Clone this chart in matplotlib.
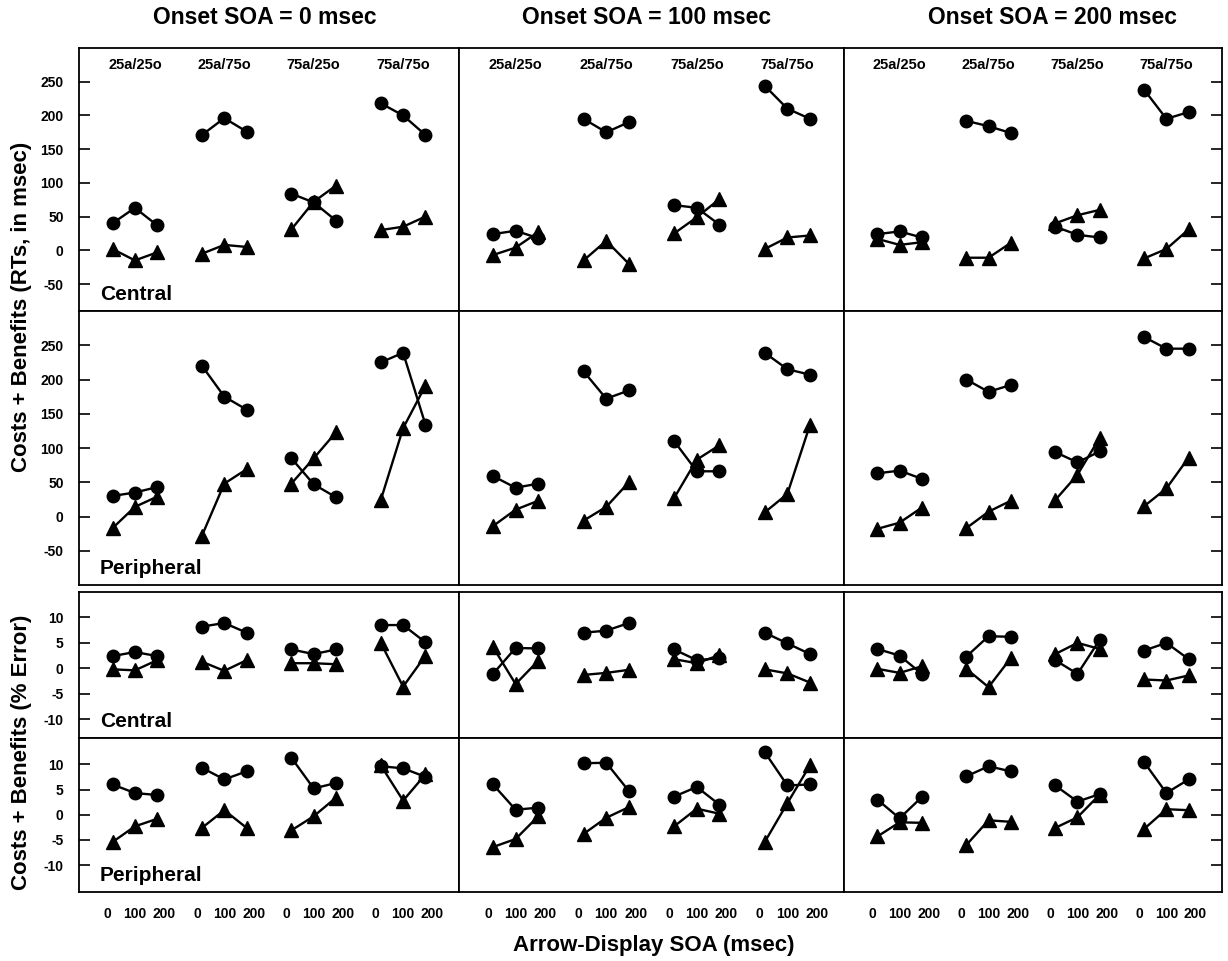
import matplotlib.pyplot as plt

plt.rcParams['font.family'] = ['Liberation Sans', 'DejaVu Sans']
plt.rcParams['font.weight'] = 'bold'
plt.rcParams['axes.unicode_minus'] = False

# conditions and SOAs
conditions = ['25a/25o', '25a/75o', '75a/25o', '75a/75o']
arrow_soas = [0, 100, 200]
onset_titles = ['Onset SOA = 0 msec', 'Onset SOA = 100 msec', 'Onset SOA = 200 msec']

# each list: one entry per onset SOA -> 4 conditions -> 3 arrow-display SOAs
rt_central_circles = [
    [[40, 63, 37], [171, 196, 176], [84, 71, 44], [218, 200, 171]],
    [[24, 29, 18], [195, 175, 190], [67, 63, 38], [244, 210, 195]],
    [[24, 28, 19], [192, 184, 174], [35, 23, 19], [238, 195, 205]],
]
rt_central_triangles = [
    [[2, -15, -3], [-5, 8, 5], [31, 72, 96], [30, 35, 50]],
    [[-7, 4, 27], [-15, 14, -20], [25, 49, 76], [2, 19, 22]],
    [[17, 8, 12], [-11, -11, 11], [40, 52, 60], [-12, 2, 31]],
]
rt_peripheral_circles = [
    [[30, 35, 43], [220, 175, 156], [85, 47, 28], [225, 239, 134]],
    [[59, 42, 48], [212, 172, 184], [110, 66, 66], [239, 215, 207]],
    [[63, 67, 55], [200, 182, 192], [94, 79, 95], [262, 245, 245]],
]
rt_peripheral_triangles = [
    [[-17, 14, 29], [-28, 48, 69], [48, 85, 123], [24, 129, 191]],
    [[-14, 10, 23], [-6, 14, 50], [27, 83, 104], [6, 33, 134]],
    [[-18, -9, 13], [-17, 7, 23], [24, 61, 115], [15, 41, 86]],
]
err_central_circles = [
    [[2.4, 3.2, 2.4], [8.2, 8.9, 7.0], [3.7, 2.8, 3.7], [8.5, 8.5, 5.1]],
    [[-1.1, 4.0, 3.9], [7.0, 7.4, 8.9], [3.7, 1.6, 2.0], [7.0, 4.9, 2.8]],
    [[3.8, 2.5, -1.1], [2.3, 6.3, 6.2], [1.6, -1.1, 5.6], [3.5, 5.0, 1.8]],
]
err_central_triangles = [
    [[-0.2, -0.4, 1.6], [1.3, -0.5, 1.6], [1.0, 1.0, 0.8], [5.0, -3.6, 2.5]],
    [[4.2, -3.1, 1.5], [-1.3, -0.9, -0.3], [1.8, 1.0, 2.6], [-0.2, -1.0, -2.8]],
    [[-0.1, -0.9, 0.4], [-0.1, -3.7, 2.0], [2.8, 5.0, 3.8], [-2.2, -2.4, -1.4]],
]
err_peripheral_circles = [
    [[6.0, 4.3, 3.9], [9.3, 7.0, 8.6], [11.3, 5.2, 6.3], [9.6, 9.2, 7.5]],
    [[6.0, 1.0, 1.4], [10.2, 10.3, 4.7], [3.6, 5.5, 2.0], [12.4, 5.8, 6.0]],
    [[3.0, -0.7, 3.5], [7.6, 9.6, 8.6], [5.8, 2.6, 4.1], [10.4, 4.3, 7.0]],
]
err_peripheral_triangles = [
    [[-5.4, -2.3, -0.8], [-2.6, 0.9, -2.6], [-3.1, -0.3, 3.4], [9.8, 2.8, 8.0]],
    [[-6.4, -4.8, -0.3], [-3.8, -0.6, 1.5], [-2.3, 1.2, 0.2], [-5.4, 2.3, 9.8]],
    [[-4.3, -1.5, -1.6], [-6.0, -1.1, -1.4], [-2.6, -0.5, 4.0], [-2.8, 1.1, 0.9]],
]

rows = [
    (rt_central_circles, rt_central_triangles, 'Central'),
    (rt_peripheral_circles, rt_peripheral_triangles, 'Peripheral'),
    (err_central_circles, err_central_triangles, 'Central'),
    (err_peripheral_circles, err_peripheral_triangles, 'Peripheral'),
]
row_ylims = [(-90, 300), (-100, 300), (-13.7, 15), (-15.3, 15.2)]
row_yticks = [list(range(-50, 251, 50)), list(range(-50, 251, 50)),
              [-10, -5, 0, 5, 10], [-10, -5, 0, 5, 10]]

# pixel layout of the panel grid
W, H = 1228, 961
col_edges = [(79, 459), (459, 844), (844, 1222)]
row_edges = [(48, 311), (311, 585), (592, 738), (738, 892)]
group_gap = 400
label_shift = {0: -22, 100: 0, 200: 31}  # tick labels sit a bit spread out

fig = plt.figure(figsize=(W / 100, H / 100), dpi=100)

for r, (circles, triangles, site) in enumerate(rows):
    top, bot = row_edges[r]
    for c in range(3):
        left, right = col_edges[c]
        ax = fig.add_axes([left / W, 1 - bot / H, (right - left) / W, (bot - top) / H])
        for g in range(len(conditions)):
            xs = [g * group_gap + s for s in arrow_soas]
            ax.plot(xs, triangles[c][g], '-^', color='black', ms=9.5, lw=1.7)
            ax.plot(xs, circles[c][g], '-o', color='black', ms=9, lw=1.7)
            if r == 0:
                ax.text(g * group_gap + 100, 0.935, conditions[g], transform=ax.get_xaxis_transform(),
                        ha='center', va='center', fontsize=10.5, fontweight='bold')
        ax.set_xlim(-150, 1550)
        ax.set_ylim(row_ylims[r])
        ax.set_yticks(row_yticks[r])
        for sp in ax.spines.values():
            sp.set_linewidth(1.3)
        if c == 0:
            ax.tick_params(axis='y', direction='in', length=8, width=1.2, pad=11, labelsize=10)
            ax.annotate(site, xy=(0, 0), xycoords='axes fraction', xytext=(15, 12),
                        textcoords='offset points', ha='left', va='center',
                        fontsize=15, fontweight='bold')
        elif c == 2:
            ax.tick_params(axis='y', direction='in', length=8, width=1.2,
                           left=False, right=True, labelleft=False)
        else:
            ax.tick_params(axis='y', left=False, labelleft=False)
        if r == 3:
            pos = [g * group_gap + s + label_shift[s] for g in range(len(conditions)) for s in arrow_soas]
            ax.set_xticks(pos)
            ax.set_xticklabels([str(s) for g in range(len(conditions)) for s in arrow_soas])
            ax.tick_params(axis='x', length=0, pad=11, labelsize=10)
        else:
            ax.set_xticks([])

title_x = [265, 647, 1053]
for c in range(3):
    fig.text(title_x[c] / W, 1 - 18 / H, onset_titles[c], ha='center', va='center',
             fontsize=16.5, fontweight='bold')

fig.text(22 / W, 1 - 307 / H, 'Costs + Benefits (RTs, in msec)', rotation=90,
         ha='center', va='center', fontsize=16, fontweight='bold')
fig.text(22 / W, 1 - 752 / H, 'Costs + Benefits (% Error)', rotation=90,
         ha='center', va='center', fontsize=16, fontweight='bold')
fig.text(654 / W, 1 - 946 / H, 'Arrow-Display SOA (msec)', ha='center', va='center',
         fontsize=16, fontweight='bold')

fig.savefig('out.png', dpi=100)
